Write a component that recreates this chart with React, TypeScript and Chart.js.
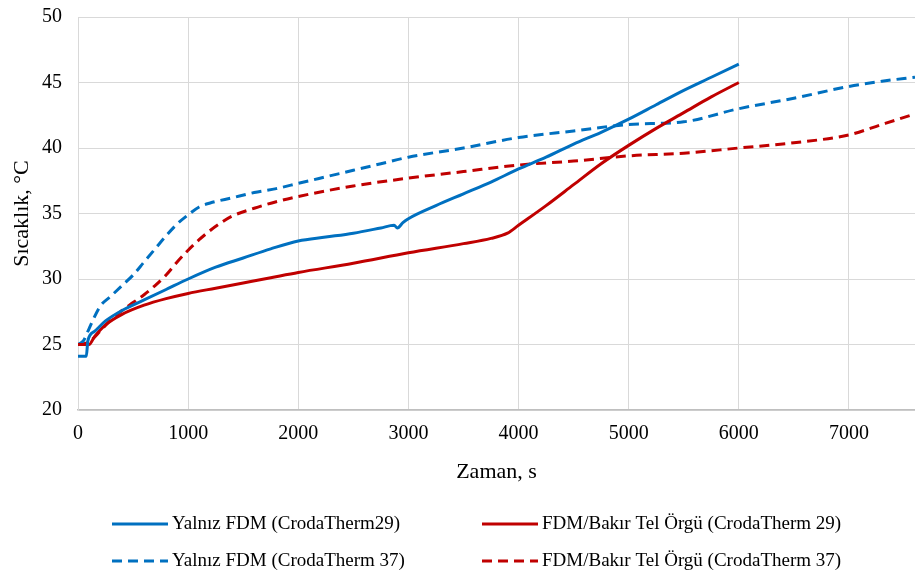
import { useEffect, useRef } from "react";
import { Chart, registerables } from "chart.js";

Chart.register(...registerables);

const FONT = '"Liberation Serif", "Times New Roman", Times, serif';

// Yalnız FDM (CrodaTherm29)
const tFdm29 = [0, 60, 75, 90, 150, 250, 400, 600, 800, 1000, 1250, 1500, 1750, 2000, 2250, 2500, 2750, 2870, 2900, 2950, 3000, 3250, 3500, 3750, 4000, 4250, 4500, 4750, 5000, 5250, 5500, 5750, 6000];
const vFdm29 = [24.1, 24.1, 24.1, 25.3, 26.0, 26.8, 27.6, 28.4, 29.2, 30.0, 30.9, 31.6, 32.3, 32.9, 33.2, 33.5, 33.9, 34.1, 33.9, 34.3, 34.6, 35.6, 36.5, 37.4, 38.4, 39.3, 40.3, 41.2, 42.2, 43.3, 44.4, 45.4, 46.4];

// FDM/Bakır Tel Örgü (CrodaTherm 29)
const tCu29 = [0, 100, 150, 250, 400, 600, 800, 1000, 1250, 1500, 1750, 2000, 2500, 3000, 3500, 3750, 3900, 4000, 4250, 4500, 4750, 5000, 5250, 5500, 5750, 6000];
const vCu29 = [25.0, 25.0, 25.6, 26.5, 27.3, 28.0, 28.5, 28.9, 29.3, 29.7, 30.1, 30.5, 31.2, 32.0, 32.7, 33.1, 33.5, 34.1, 35.6, 37.2, 38.8, 40.2, 41.5, 42.7, 43.9, 45.0];

// Yalnız FDM (CrodaTherm 37)
const tFdm37 = [0, 50, 100, 200, 300, 400, 500, 600, 700, 800, 900, 1000, 1100, 1200, 1400, 1600, 1800, 2000, 2250, 2500, 2750, 3000, 3500, 4000, 4500, 5000, 5500, 6000, 6500, 7000, 7300, 7600];
const vFdm37 = [25.0, 25.3, 26.2, 27.9, 28.7, 29.5, 30.3, 31.3, 32.3, 33.3, 34.2, 34.9, 35.5, 35.8, 36.2, 36.6, 36.9, 37.3, 37.8, 38.3, 38.8, 39.3, 40.0, 40.8, 41.3, 41.8, 42.0, 43.0, 43.8, 44.7, 45.1, 45.4];

// FDM/Bakır Tel Örgü (CrodaTherm 37)
const tCu37 = [0, 100, 200, 300, 400, 500, 600, 700, 800, 900, 1000, 1100, 1200, 1300, 1400, 1600, 1800, 2000, 2500, 3000, 3500, 4000, 4500, 5000, 5500, 6000, 6500, 7000, 7300, 7600];
const vCu37 = [25.0, 25.2, 26.0, 26.9, 27.6, 28.2, 28.8, 29.5, 30.3, 31.3, 32.2, 33.0, 33.7, 34.3, 34.8, 35.4, 35.9, 36.3, 37.1, 37.7, 38.2, 38.7, 39.0, 39.4, 39.6, 40.0, 40.4, 41.0, 41.8, 42.6];

const seriesLabels = [
  "Yalnız FDM (CrodaTherm29)",
  "FDM/Bakır Tel Örgü (CrodaTherm 29)",
  "Yalnız FDM (CrodaTherm 37)",
  "FDM/Bakır Tel Örgü (CrodaTherm 37)",
];

const xTickValues = [0, 1000, 2000, 3000, 4000, 5000, 6000, 7000];
const yTickValues = [20, 25, 30, 35, 40, 45, 50];

const xTitle = "Zaman, s";
const yTitle = "Sıcaklık, °C";

const BLUE = "#0070C0";
const RED = "#C00000";

function toXY(t: number[], v: number[]) {
  return t.map((x, i) => ({ x, y: v[i] }));
}

export default function App() {
  const ref = useRef<HTMLCanvasElement>(null);

  useEffect(() => {
    if (!ref.current) return;

    const legendPlugin = {
      id: "gridLegend",
      afterDraw(chart: any) {
        const ctx = chart.ctx as CanvasRenderingContext2D;
        const cols = [112, 482];
        const rows = [524, 561];
        const lineLen = 56;
        ctx.save();
        chart.data.datasets.forEach((ds: any, i: number) => {
          const x = cols[i % 2];
          const y = rows[Math.floor(i / 2)];
          ctx.beginPath();
          ctx.strokeStyle = ds.borderColor;
          ctx.lineWidth = 3;
          ctx.setLineDash(ds.borderDash || []);
          ctx.moveTo(x, y);
          ctx.lineTo(x + lineLen, y);
          ctx.stroke();
          ctx.setLineDash([]);
          ctx.fillStyle = "#000";
          ctx.font = `19px ${FONT}`;
          ctx.textBaseline = "middle";
          ctx.textAlign = "left";
          ctx.fillText(ds.label, x + lineLen + 4, y);
        });
        ctx.restore();
      },
    };

    const common = {
      pointRadius: 0,
      borderWidth: 3,
      fill: false,
      cubicInterpolationMode: "monotone" as const,
    };

    const chart = new Chart(ref.current, {
      type: "line",
      data: {
        datasets: [
          { ...common, label: seriesLabels[0], data: toXY(tFdm29, vFdm29), borderColor: BLUE, backgroundColor: BLUE },
          { ...common, label: seriesLabels[1], data: toXY(tCu29, vCu29), borderColor: RED, backgroundColor: RED },
          { ...common, label: seriesLabels[2], data: toXY(tFdm37, vFdm37), borderColor: BLUE, backgroundColor: BLUE, borderDash: [10, 6] },
          { ...common, label: seriesLabels[3], data: toXY(tCu37, vCu37), borderColor: RED, backgroundColor: RED, borderDash: [10, 6] },
        ],
      },
      options: {
        responsive: false,
        animation: false,
        layout: { padding: { top: 17, right: 0, bottom: 87, left: 0 } },
        plugins: {
          legend: { display: false },
          tooltip: { enabled: false },
        },
        scales: {
          x: {
            type: "linear",
            min: 0,
            max: 7600,
            afterBuildTicks(scale: any) {
              scale.ticks = xTickValues.map((value) => ({ value }));
            },
            ticks: {
              autoSkip: false,
              padding: 12,
              color: "#000",
              font: { family: FONT, size: 20 },
              maxRotation: 0,
              callback: (v: any) => String(v),
            },
            grid: { color: "#D9D9D9", lineWidth: 1, drawTicks: false },
            border: { color: "#BFBFBF", width: 1.5 },
            title: {
              display: true,
              text: xTitle,
              color: "#000",
              font: { family: FONT, size: 22 },
              padding: { top: 4, bottom: 0 },
            },
            afterFit(scale: any) {
              scale.height = 75;
              scale.paddingRight = 0;
            },
          },
          y: {
            min: 20,
            max: 50,
            afterBuildTicks(scale: any) {
              scale.ticks = yTickValues.map((value) => ({ value }));
            },
            ticks: {
              autoSkip: false,
              padding: 16,
              color: "#000",
              font: { family: FONT, size: 20 },
              callback: (v: any) => String(v),
            },
            grid: { color: "#D9D9D9", lineWidth: 1, drawTicks: false },
            border: { color: "#D9D9D9", width: 1 },
            title: {
              display: true,
              text: yTitle,
              color: "#000",
              font: { family: FONT, size: 22 },
              padding: { top: 9, bottom: 0 },
            },
            afterFit(scale: any) {
              scale.width = 78;
              scale.paddingTop = 0;
              scale.paddingBottom = 0;
            },
          },
        },
      },
      plugins: [legendPlugin],
    });

    return () => chart.destroy();
  }, []);

  return (
    <div style={{ position: "fixed", left: 0, top: 0, width: 915, height: 572, background: "#fff" }}>
      <canvas ref={ref} width={915} height={572} style={{ display: "block" }} />
    </div>
  );
}
